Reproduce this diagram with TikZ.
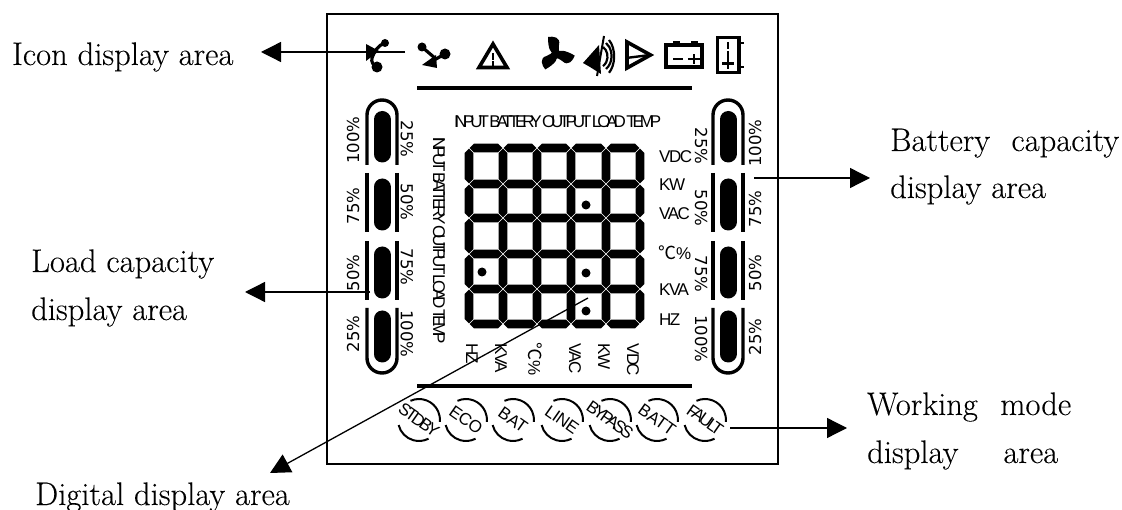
\documentclass[tikz,border=0pt]{standalone}
\usepackage{fontspec}
\usetikzlibrary{arrows.meta}
\newfontfamily\lab[FakeBold=0.15]{Latin Modern Roman}
\newfontfamily\narrow[LetterSpace=-9]{Liberation Sans}
\newfontfamily\narrowb[LetterSpace=-24,WordSpace=0.6]{Liberation Sans}
\newfontfamily\narrowm[LetterSpace=-17]{Liberation Sans}
\newfontfamily\narrown[LetterSpace=-2]{Liberation Sans}
\newfontfamily\djv{DejaVu Sans}
\newfontfamily\cjkf{Noto Sans CJK SC}
\tikzset{
  labeltext/.style={anchor=base west,inner sep=0pt,font=\lab\fontsize{32.6}{34}\selectfont},
  pct/.style={inner sep=0pt,font=\djv\fontsize{16.5}{17}\selectfont},
  pctup/.style={pct,rotate=90},
  pctdn/.style={pct,rotate=-90},
  unit/.style={inner sep=0pt,font=\narrow\fontsize{17}{18}\selectfont},
  unitdn/.style={unit,rotate=-90},
  capsline/.style={inner sep=0pt,font=\narrowb\fontsize{17}{18}\selectfont},
  modetext/.style={inner sep=0pt,rotate=-35,font=\fontsize{17}{18}\selectfont},
  rule/.style={line width=3.8pt},
  rail/.style={line width=3.4pt},
  pill/.style={line width=17pt,line cap=round},
  modearc/.style={line width=2pt},
  icon/.style={line width=3.6pt},
  pointer/.style={line width=1.3pt,-{Triangle[length=20pt,width=20pt]}},
  frameline/.style={line width=1.3pt},
}
\begin{document}
\begin{tikzpicture}[x=1pt,y=-1pt]
\useasboundingbox (0,0) rectangle (1122,510);
\fill[white] (0,0) rectangle (1122,510);
% frame
\draw[frameline] (327,14) rectangle (778,464);
% rules
\draw[rule] (417,88) -- (692,88);
\draw[rule] (417,386) -- (692,386);

% ---- icons
% icon 1
\fill (385,43) circle (4);
\draw[line width=3.2pt] (385,43) .. controls (378,45) and (374,52) .. (372,58) .. controls (371,62) and (373,65) .. (377,67);
\fill (377,67) circle (5.5);
\fill (366,44) -- (379,51) -- (366,61) -- cycle;
% icon 2
\fill (422,47) circle (4.5);
\draw[line width=3.2pt] (422,47) -- (436,59) -- (443,55);
\fill (445,54) circle (5.5);
\fill (422,65) -- (436,55) -- (437,68) -- cycle;
% warning triangle
\draw[icon,line join=miter] (493,44) -- (479,67.5) -- (507,67.5) -- cycle;
\draw[line width=2.4pt] (493,53) -- (493,60);
\draw[line width=2.4pt] (493,61) -- (493,67);
% fan
\begin{scope}[shift={(556,54)}]
  \foreach \a in {0,120,240}{
    \fill[rotate=\a] (1,2) .. controls (-6,0) and (-8,-6) .. (-8,-17) .. controls (-3,-18) and (5,-17) .. (3,-9) .. controls (2,-6) and (3,-3) .. (4,-1) -- cycle;
  }
  \fill (0,0) circle (4);
\end{scope}
% sound icon
\fill (599,45) -- (583,63) -- (590,67) -- (601,74) -- cycle;
\draw[line width=2pt] (604,36) -- (597,76);
\draw[line width=2.2pt] (603,47) arc (-60:60:9 and 11);
\draw[line width=2.2pt] (606,43) arc (-60:60:11 and 15);
\draw[line width=2.2pt] (609,40) arc (-55:55:12 and 20);
% triangle
\draw[icon,line join=miter] (627,42) -- (650.5,55) -- (627,68) -- cycle;
\draw[line width=2.4pt] (626,58) -- (650,55);
% battery
\draw[icon] (666,45) rectangle (702,67);
\draw[line width=2.6pt] (673,42) -- (680,42);
\draw[line width=2.6pt] (691,42) -- (698,42);
\draw[line width=2.6pt] (673,59) -- (683,59);
\draw[line width=2.6pt] (688,59) -- (700,59);
\draw[line width=2.6pt] (694,54.5) -- (694,64);
% tall battery
\draw[line width=3.6pt] (717.5,37.5) rectangle (739,72.5);
\draw[line width=2.6pt] (740,43) -- (744,43);
\draw[line width=2.6pt] (740,67) -- (744,67);
\draw[line width=2.4pt] (728,42) -- (728,49);
\draw[line width=2.4pt] (728,51) -- (728,58);
\draw[line width=2.6pt] (722,63.5) -- (734,63.5);
\draw[line width=2.6pt] (728,58.5) -- (728,69);

% ---- capacity bars
\foreach \c/\l/\r in {382/367/397, 728/713/743}{
  \draw[rail] (\l,165) -- (\l,115) arc (180:360:15) -- (\r,165);
  \draw[rail] (\l,173) -- (\l,232);
  \draw[rail] (\r,173) -- (\r,232);
  \draw[rail] (\l,241) -- (\l,300);
  \draw[rail] (\r,241) -- (\r,300);
  \draw[rail] (\l,308) -- (\l,358) arc (180:0:15) -- (\r,308);
  \draw[pill] (\c,119.5) -- (\c,154);
  \draw[pill] (\c,187) -- (\c,222);
  \draw[pill] (\c,255) -- (\c,290);
  \draw[pill] (\c,319) -- (\c,354);
}
\node[pctup] (l100) at (353,140) {100\%};
\node[pctup] (l75) at (353,206) {75\%};
\node[pctup] (l50) at (353,273) {50\%};
\node[pctup] (l25) at (353,334) {25\%};
\node[pctdn] (li25) at (407,139) {25\%};
\node[pctdn] (li50) at (407,202) {50\%};
\node[pctdn] (li75) at (407,267) {75\%};
\node[pctdn] (li100) at (407,334) {100\%};
\node[pctdn] (ri25) at (701,146) {25\%};
\node[pctdn] (ri50) at (701,208) {50\%};
\node[pctdn] (ri75) at (701,274) {75\%};
\node[pctdn] (ri100) at (701,339) {100\%};
\node[pctup] (r100) at (755,143) {100\%};
\node[pctup] (r75) at (755,209) {75\%};
\node[pctup] (r50) at (755,273) {50\%};
\node[pctup] (r25) at (755,337) {25\%};

% ---- digits
\def\hw{4.3}
\foreach \xa/\xb in {469/503,503/537,537/571,571/606,606/640}{
  \foreach \y in {148,184,218,254,289,324}{
    \fill (\xa+0.6,\y) -- (\xa+4.9,\y-\hw) -- (\xb-4.9,\y-\hw) -- (\xb-0.6,\y) -- (\xb-4.9,\y+\hw) -- (\xa+4.9,\y+\hw) -- cycle;
  }
}
\foreach \x in {469,503,537,571,606,640}{
  \foreach \ya/\yb in {148/184,184/218,218/254,254/289,289/324}{
    \fill (\x,\ya+0.6) -- (\x+\hw,\ya+4.9) -- (\x+\hw,\yb-4.9) -- (\x,\yb-0.6) -- (\x-\hw,\yb-4.9) -- (\x-\hw,\ya+4.9) -- cycle;
  }
}
\fill (482,272) circle (4.5);
\fill (586,205) circle (4.5);
\fill (586,273) circle (4.5);
\fill (586,311) circle (4.5);

% ---- small labels
\node[capsline,anchor=west] (topcaps) at (454,122) {INPUT BATTERY OUTPUT LOAD TEMP};
\node[capsline,rotate=-90,anchor=west] (sidecaps) at (439,137) {INPUT BATTERY OUTPUT LOAD TEMP};
\node[unit,anchor=west] (uvdc) at (659,157) {VDC};
\node[unit,anchor=west] (ukw) at (659,185) {KW};
\node[unit,anchor=west] (uvac) at (659,214) {VAC};
\node[unit,anchor=west] (utemp) at (658,253) {{\cjkf\fontsize{18}{18}\selectfont ℃}\%};
\node[unit,anchor=west] (ukva) at (659,290) {KVA};
\node[unit,anchor=west] (uhz) at (659,320) {HZ};
\node[unitdn,anchor=west] (bhz) at (472,343) {HZ};
\node[unitdn,anchor=west] (bkva) at (501,343) {KVA};
\node[unitdn,anchor=west] (btemp) at (535,342) {{\cjkf\fontsize{18}{18}\selectfont ℃}\%};
\node[unitdn,anchor=west] (bvac) at (575,343) {VAC};
\node[unitdn,anchor=west] (bkw) at (604,343) {KW};
\node[unitdn,anchor=west] (bvdc) at (633,343) {VDC};

% ---- mode indicators
\foreach \cx/\txt/\nm/\ff in {419/STDBY/mstdby/\narrowm,466/ECO/meco/\narrown,513/BAT/mbat/\narrown,562/LINE/mline/\narrown,610/BYPASS/mbypass/\narrowm,657/BATT/mbatt/\narrown,705/FAULT/mfault/\narrowm}{
  \draw[modearc] (\cx,420) ++(114:21 and -21) arc (-114:5:21);
  \draw[modearc] (\cx,420) ++(194:21 and -21) arc (-194:-297:21);
  \node[modetext] (\nm) at (\cx,420) {\ff\txt};
}

% ---- callouts
\node[labeltext] (icontxt) at (12,65) {Icon display area};
\node[labeltext] (battA) at (890,151) {\makebox[229pt][s]{Battery\hfill capacity}};
\node[labeltext] (battB) at (890,198) {display area};
\node[labeltext] (loadA) at (31,272) {Load capacity};
\node[labeltext] (loadB) at (31,320) {display area};
\node[labeltext] (workA) at (867,415) {\makebox[204pt][s]{Working\hfill mode}};
\node[labeltext] (workB) at (867,463) {\makebox[191pt][s]{display\hfill area}};
\node[labeltext] (digtxt) at (35,505) {Digital display area};

\coordinate (icona) at (405,52);
\coordinate (iconb) at (261,52);
\coordinate (loada) at (370,292);
\coordinate (loadb) at (245,292);
\coordinate (batta) at (754,178);
\coordinate (battb) at (870,178);
\coordinate (worka) at (730,428);
\coordinate (workb) at (847,428);
\coordinate (diga) at (588,298);
\coordinate (digb) at (270,473);
\draw[pointer] (icona) -- (iconb);
\draw[pointer] (loada) -- (loadb);
\draw[pointer] (batta) -- (battb);
\draw[pointer] (worka) -- (workb);
\draw[pointer] (diga) -- (digb);
\end{tikzpicture}
\end{document}
